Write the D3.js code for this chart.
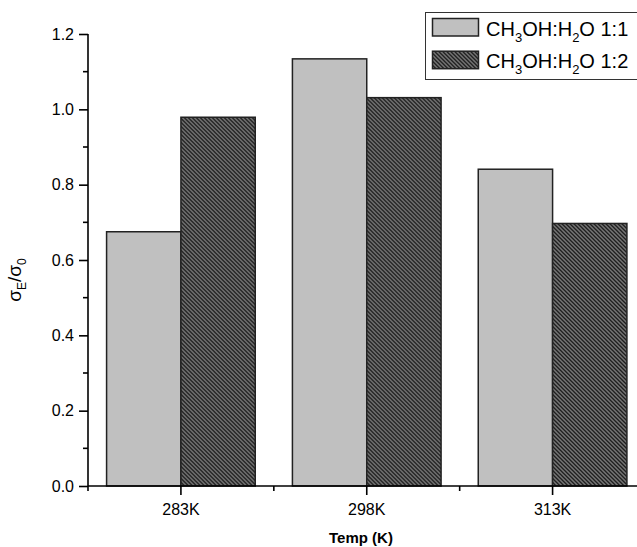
<!DOCTYPE html>
<html>
<head>
<meta charset="utf-8">
<style>
  body { margin: 0; background: #fff; }
  svg { display: block; font-family: "Liberation Sans", Arial, sans-serif; }
</style>
</head>
<body>
<svg width="637" height="547"></svg>
<script src="https://d3js.org/d3.v7.min.js"></script>
<script>

// sigma_E / sigma_0 by temperature for two methanol:water ratios

var categories = ["283K", "298K", "313K"];
var series = ["1:1", "1:2"];
var ratio11 = [0.675, 1.134, 0.841];
var ratio12 = [0.979, 1.031, 0.697];
var yTicks = [0, 0.2, 0.4, 0.6, 0.8, 1.0, 1.2];

var svg = d3.select("svg");

var x = d3.scaleBand()
    .domain(categories)
    .range([88, 645.5])
    .paddingInner(0.2)
    .paddingOuter(0.1);

var xs = d3.scaleBand()
    .domain(series)
    .range([0, x.bandwidth()]);

var y = d3.scaleLinear()
    .domain([0, 1.2])
    .range([486, 34]);

// hatch pattern for the 1:2 bars
var defs = svg.append("defs");
var pat = defs.append("pattern")
    .attr("id", "hatch")
    .attr("patternUnits", "userSpaceOnUse")
    .attr("width", 4)
    .attr("height", 4);
pat.append("rect").attr("width", 4).attr("height", 4).attr("fill", "#808080");
pat.append("path")
    .attr("d", "M-1,-1 L5,5 M-1,3 L1,5 M3,-1 L5,1")
    .attr("stroke", "#111")
    .attr("stroke-width", 1.3);

var rows = categories.map(function(c, i) {
  return {cat: c, vals: [ratio11[i], ratio12[i]]};
});

var fills = ["#c0c0c0", "url(#hatch)"];

var groups = svg.append("g").selectAll("g")
    .data(rows)
  .enter().append("g")
    .attr("transform", function(d) { return "translate(" + x(d.cat) + ",0)"; });

groups.selectAll("rect")
    .data(function(d) { return d.vals.map(function(v, j) { return {s: series[j], v: v, j: j}; }); })
  .enter().append("rect")
    .attr("x", function(d) { return xs(d.s); })
    .attr("y", function(d) { return y(d.v); })
    .attr("width", xs.bandwidth())
    .attr("height", function(d) { return y(0) - y(d.v); })
    .attr("fill", function(d) { return fills[d.j]; })
    .attr("stroke", "#222")
    .attr("stroke-width", 1.5);

// y axis
var yAxis = svg.append("g")
    .attr("transform", "translate(88,0)")
    .call(d3.axisLeft(y).tickValues(yTicks).tickFormat(d3.format(".1f")).tickSize(9).tickPadding(5));
yAxis.select(".domain").attr("d", "M0," + y(1.2) + "V" + y(0)).attr("stroke-width", 1.6);
yAxis.selectAll(".tick line").attr("stroke-width", 1.6);
yAxis.selectAll(".tick text").attr("font-size", 16).attr("font-family", "Liberation Sans, Arial, sans-serif").attr("fill", "#000");
yAxis.selectAll(".minor")
    .data(d3.range(1, 12, 2).map(function(k) { return k / 10; }))
  .enter().append("line")
    .attr("class", "minor")
    .attr("x1", -5).attr("x2", 0)
    .attr("y1", function(d) { return y(d); })
    .attr("y2", function(d) { return y(d); })
    .attr("stroke", "#000")
    .attr("stroke-width", 1.6);

// x axis
var xAxis = svg.append("g")
    .attr("transform", "translate(0," + y(0) + ")")
    .call(d3.axisBottom(x).tickSize(9).tickPadding(9));
xAxis.select(".domain").attr("d", "M88,0H637").attr("stroke-width", 1.6);
xAxis.selectAll(".tick line").attr("stroke-width", 1.6);
xAxis.selectAll(".tick text").attr("font-size", 16).attr("font-family", "Liberation Sans, Arial, sans-serif").attr("fill", "#000");
xAxis.selectAll(".minor")
    .data(d3.range(0, categories.length).map(function(i) { return x.range()[0] + i * x.step(); }))
  .enter().append("line")
    .attr("class", "minor")
    .attr("x1", function(d) { return d; })
    .attr("x2", function(d) { return d; })
    .attr("y1", 0).attr("y2", 5)
    .attr("stroke", "#000")
    .attr("stroke-width", 1.6);

// axis titles
svg.append("text")
    .attr("x", 361)
    .attr("y", 543)
    .attr("text-anchor", "middle")
    .attr("font-size", 15)
    .attr("font-weight", "bold")
    .text("Temp (K)");

var yl = svg.append("text")
    .attr("transform", "translate(21,280) rotate(-90)")
    .attr("text-anchor", "middle")
    .attr("font-size", 19);
yl.append("tspan").text("σ");
yl.append("tspan").attr("font-size", 12).attr("dy", 5).text("E");
yl.append("tspan").attr("dy", -5).text("/σ");
yl.append("tspan").attr("font-size", 12).attr("dy", 5).text("0");

// legend
var legend = svg.append("g");
legend.append("rect")
    .attr("x", 425.5).attr("y", 12.5)
    .attr("width", 220).attr("height", 67)
    .attr("fill", "#fff")
    .attr("stroke", "#333")
    .attr("stroke-width", 1);

var items = legend.selectAll(".item")
    .data(series)
  .enter().append("g")
    .attr("class", "item")
    .attr("transform", function(d, i) { return "translate(0," + (i * 32.7) + ")"; });

items.append("rect")
    .attr("x", 432.5).attr("y", 18.5)
    .attr("width", 46).attr("height", 17.5)
    .attr("fill", function(d, i) { return fills[i]; })
    .attr("stroke", "#222")
    .attr("stroke-width", 1.5);

var lt = items.append("text")
    .attr("x", 486).attr("y", 35.5)
    .attr("font-size", 20);
lt.append("tspan").text("CH");
lt.append("tspan").attr("font-size", 13).attr("dy", 6).text("3");
lt.append("tspan").attr("dy", -6).text("OH:H");
lt.append("tspan").attr("font-size", 13).attr("dy", 6).text("2");
lt.append("tspan").attr("dy", -6).text(function(d) { return "O " + d; });

</script>
</body>
</html>
